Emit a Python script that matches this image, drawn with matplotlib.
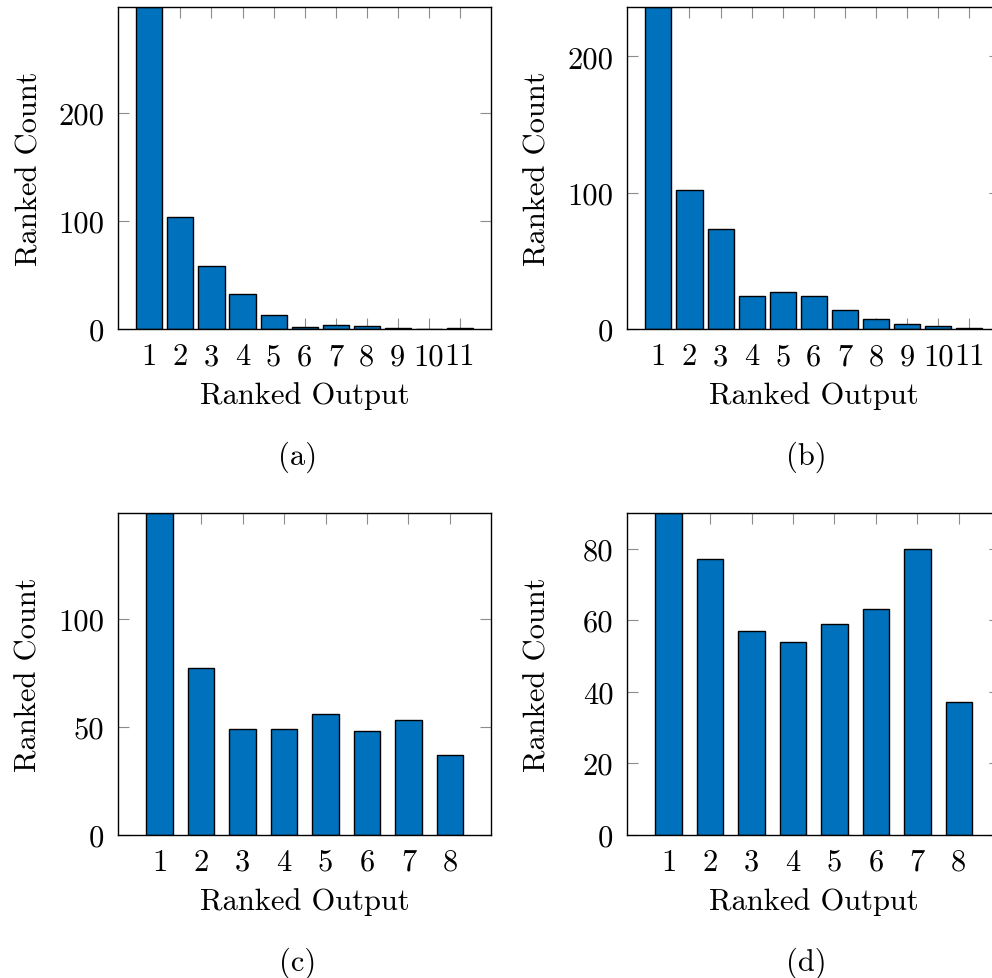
import matplotlib
matplotlib.use("Agg")
import matplotlib.pyplot as plt
from matplotlib.ticker import MultipleLocator, FixedLocator

plt.rcParams['font.family'] = ['cmr10', 'DejaVu Serif']
plt.rcParams['mathtext.fontset'] = 'cm'
plt.rcParams['axes.unicode_minus'] = False
plt.rcParams['axes.formatter.use_mathtext'] = False

# ---- data ----
ranks_a = list(range(1, 12))
counts_a = [298, 104, 58, 32, 13, 2, 4, 3, 1, 0, 1]

ranks_b = list(range(1, 12))
counts_b = [236, 102, 73, 24, 27, 24, 14, 7, 4, 2, 1]

ranks_c = list(range(1, 9))
counts_c = [149, 77, 49, 49, 56, 48, 53, 37]

ranks_d = list(range(1, 9))
counts_d = [90, 77, 57, 54, 59, 63, 80, 37]

captions = ['(a)', '(b)', '(c)', '(d)']
xlabel = 'Ranked Output'
ylabel = 'Ranked Count'

W, H = 992, 979
fig = plt.figure(figsize=(W / 100, H / 100), dpi=100)

def px_rect(l, t, r, b):
    return [l / W, 1 - b / H, (r - l) / W, (b - t) / H]

panels = [
    (px_rect(118.3, 8.3, 491.0, 330.0), ranks_a, counts_a, 0.84, 100),
    (px_rect(627.3, 8.3, 1000.4, 330.0), ranks_b, counts_b, 0.84, 100),
    (px_rect(118.3, 514.0, 491.4, 835.5), ranks_c, counts_c, 0.64, 50),
    (px_rect(627.3, 514.0, 1000.2, 835.5), ranks_d, counts_d, 0.64, 20),
]

FS = 22
BLUE = '#0072BD'

for (rect, xs, ys, bw, step), cap in zip(panels, captions):
    ax = fig.add_axes(rect)
    ax.bar(xs, ys, width=bw, color=BLUE, edgecolor='black', linewidth=1.0, zorder=2)
    ax.set_xlim(0, len(xs) + 1)
    ax.set_ylim(0, max(ys))
    ax.xaxis.set_major_locator(FixedLocator(xs))
    ax.set_xticklabels([str(x) for x in xs])
    ax.yaxis.set_major_locator(MultipleLocator(step))
    ax.set_axisbelow(True)
    ax.tick_params(direction='in', top=True, right=True, length=8, width=0.8,
                   color='0.55', labelsize=FS, pad=10)
    for sp in ax.spines.values():
        sp.set_linewidth(1.0)
        sp.set_color('black')
        sp.set_zorder(3)
    ax.set_xlabel(xlabel, fontsize=FS)
    ax.set_ylabel(ylabel, fontsize=FS)
    ax.xaxis.set_label_coords(0.5, -0.162)
    ax.yaxis.set_label_coords(-0.202, 0.5)
    ax.text(0.48, -0.42, cap, transform=ax.transAxes, ha='center', va='baseline',
            fontsize=FS)

fig.savefig('out.png', dpi=100)
